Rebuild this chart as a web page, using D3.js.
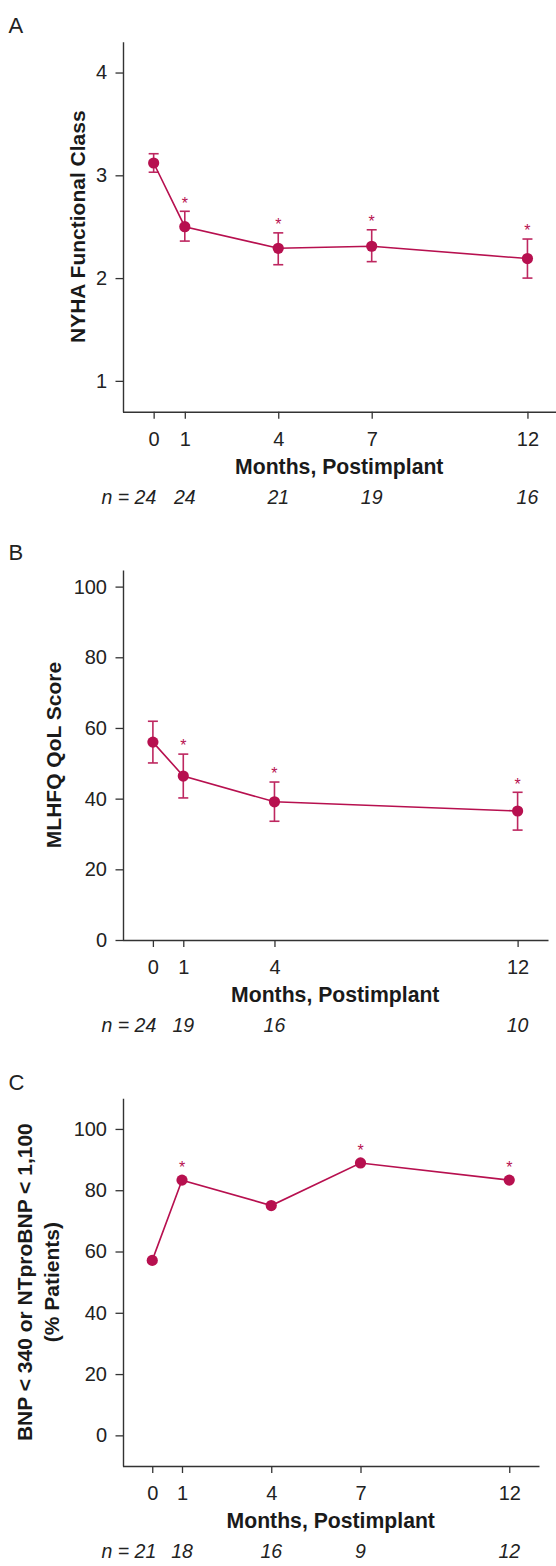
<!DOCTYPE html>
<html>
<head>
<meta charset="utf-8">
<script src="https://cdn.jsdelivr.net/npm/d3@7/dist/d3.min.js"></script>
<style>
  html, body { margin: 0; padding: 0; background: #fff; }
  svg { display: block; }
  text { font-family: "Liberation Sans", Arial, Helvetica, sans-serif; }
</style>
</head>
<body>
<svg id="chart" width="556" height="1566"></svg>
<script>
// ---------- DATA ----------
// Panel A: NYHA functional class
const monthsA = [0, 1, 4, 7, 12];
const nyhaMean = [3.12, 2.50, 2.29, 2.31, 2.19];
const nyhaLower = [3.03, 2.36, 2.13, 2.16, 2.00];
const nyhaUpper = [3.21, 2.65, 2.44, 2.47, 2.38];
const nyhaSig = [false, true, true, true, true];
const nA = [24, 24, 21, 19, 16];
const yTicksA = [1, 2, 3, 4];

// Panel B: MLHFQ QoL score
const monthsB = [0, 1, 4, 12];
const qolMean = [56.0, 46.4, 39.1, 36.5];
const qolLower = [50.1, 40.2, 33.6, 31.1];
const qolUpper = [61.9, 52.6, 44.7, 41.8];
const qolSig = [false, true, true, true];
const nB = [24, 19, 16, 10];
const yTicksB = [0, 20, 40, 60, 80, 100];

// Panel C: BNP < 340 or NTproBNP < 1,100 (% patients)
const monthsC = [0, 1, 4, 7, 12];
const bnpPct = [57.1, 83.3, 75.0, 88.9, 83.3];
const bnpSig = [false, true, false, true, true];
const nC = [21, 18, 16, 9, 12];
const yTicksC = [0, 20, 40, 60, 80, 100];

const xLabel = "Months, Postimplant";

// ---------- STYLE ----------
const RED = "#b7104f";
const AXIS = "#333333";
const TXT = "#222222";

const svg = d3.select("#chart");

function drawPanel(p) {
  const g = svg.append("g");
  const x = d3.scaleLinear().domain([-1, 13]).range(p.xRange);
  const y = d3.scaleLinear().domain(p.yDomain).range(p.yRange);
  const axisY = p.yRange[0];

  // panel letter
  g.append("text").attr("x", 8.5).attr("y", p.letterY)
    .attr("font-size", 22).attr("fill", TXT).text(p.letter);

  // y axis
  const ya = g.append("g").attr("transform", `translate(${p.xRange[0] + 0.5},0)`)
    .call(d3.axisLeft(y).tickValues(p.yTicks).tickFormat(d3.format("d"))
      .tickSize(7.5).tickSizeOuter(0).tickPadding(8.5));
  // x axis
  const xa = g.append("g").attr("transform", `translate(0,${axisY})`)
    .call(d3.axisBottom(x).tickValues(p.months).tickFormat(d3.format("d"))
      .tickSize(7).tickSizeOuter(0).tickPadding(13));
  [ya, xa].forEach(a => {
    a.select(".domain").attr("stroke", AXIS).attr("stroke-width", 1.4);
    a.selectAll(".tick line").attr("stroke", AXIS).attr("stroke-width", 1.3);
    a.selectAll(".tick text").attr("font-size", 20).attr("fill", TXT)
      .attr("font-family", '"Liberation Sans", Arial, sans-serif');
  });

  // y axis title (rotated)
  const cy = (p.yRange[0] + p.yRange[1]) / 2;
  p.yTitle.forEach((line, i) => {
    g.append("text")
      .attr("transform", `translate(${p.yTitleX[i]},${cy}) rotate(-90)`)
      .attr("text-anchor", "middle").attr("font-size", 21).attr("font-weight", "bold")
      .attr("fill", "#1a1a1a").text(line);
  });

  // x axis title
  g.append("text").attr("x", (p.xRange[0] + Math.min(p.xRange[1], 556)) / 2)
    .attr("y", axisY + 62).attr("text-anchor", "middle")
    .attr("font-size", 21.2).attr("font-weight", "bold").attr("fill", "#1a1a1a")
    .text(xLabel);

  // n row
  p.n.forEach((v, i) => {
    const t = g.append("text").attr("y", axisY + 92).attr("font-size", 19.5)
      .attr("font-style", "italic").attr("fill", TXT);
    if (i === 0) {
      t.attr("x", 101.5).attr("text-anchor", "start").text("n = " + v);
    } else {
      t.attr("x", x(p.months[i])).attr("text-anchor", "middle").text(v);
    }
  });

  const pts = p.months.map((m, i) => ({
    m, v: p.mean[i],
    lo: p.lower ? p.lower[i] : null,
    hi: p.upper ? p.upper[i] : null,
    sig: p.sig[i]
  }));

  // line
  g.append("path").datum(pts)
    .attr("d", d3.line().x(d => x(d.m)).y(d => y(d.v)))
    .attr("fill", "none").attr("stroke", RED).attr("stroke-width", 1.6);

  // error bars
  if (p.lower) {
    const eb = g.selectAll(".eb").data(pts).enter().append("g").attr("class", "eb")
      .attr("stroke", RED).attr("stroke-width", 1.6).attr("opacity", 0.9);
    eb.append("line").attr("x1", d => x(d.m)).attr("x2", d => x(d.m))
      .attr("y1", d => y(d.lo)).attr("y2", d => y(d.hi));
    eb.append("line").attr("x1", d => x(d.m) - 5).attr("x2", d => x(d.m) + 5)
      .attr("y1", d => y(d.hi)).attr("y2", d => y(d.hi));
    eb.append("line").attr("x1", d => x(d.m) - 5).attr("x2", d => x(d.m) + 5)
      .attr("y1", d => y(d.lo)).attr("y2", d => y(d.lo));
  }

  // points
  g.selectAll(".pt").data(pts).enter().append("circle")
    .attr("cx", d => x(d.m)).attr("cy", d => y(d.v)).attr("r", 5.6).attr("fill", RED);

  // significance asterisks
  g.selectAll(".star").data(pts.filter(d => d.sig)).enter().append("text")
    .attr("x", d => x(d.m)).attr("text-anchor", "middle")
    .attr("y", d => (p.lower ? y(d.hi) - 11.7 : y(d.v) - 16) + 9)
    .attr("font-size", 16).attr("fill", RED).text("*");
}

drawPanel({
  letter: "A", letterY: 32.5,
  months: monthsA, mean: nyhaMean, lower: nyhaLower, upper: nyhaUpper, sig: nyhaSig, n: nA,
  yTicks: yTicksA, yDomain: [0.7, 4.3], yRange: [411.7, 41.7], xRange: [122.5, 558.6],
  yTitle: ["NYHA Functional Class"], yTitleX: [85]
});
drawPanel({
  letter: "B", letterY: 560,
  months: monthsB, mean: qolMean, lower: qolLower, upper: qolUpper, sig: qolSig, n: nB,
  yTicks: yTicksB, yDomain: [0, 104.7], yRange: [940, 570], xRange: [122.5, 548],
  yTitle: ["MLHFQ QoL Score"], yTitleX: [60.5]
});
drawPanel({
  letter: "C", letterY: 1090,
  months: monthsC, mean: bnpPct, lower: null, upper: null, sig: bnpSig, n: nC,
  yTicks: yTicksC, yDomain: [-10, 110], yRange: [1466, 1098.3], xRange: [122.5, 539],
  yTitle: ["BNP < 340 or NTproBNP < 1,100", "(% Patients)"], yTitleX: [32, 59]
});
</script>
</body>
</html>
